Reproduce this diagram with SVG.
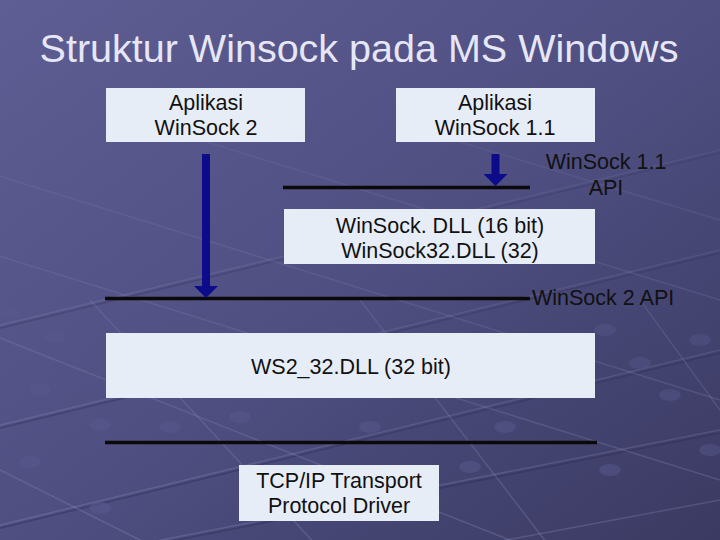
<svg xmlns="http://www.w3.org/2000/svg" width="720" height="540" viewBox="0 0 720 540">
  <defs>
    <linearGradient id="bg" x1="0" y1="0" x2="1" y2="1">
      <stop offset="0" stop-color="#5e5e94"/>
      <stop offset="0.5" stop-color="#4f4f82"/>
      <stop offset="1" stop-color="#3a3a62"/>
    </linearGradient>
    <linearGradient id="fade" x1="0" y1="0" x2="0" y2="1">
      <stop offset="0" stop-color="#fff" stop-opacity="0"/>
      <stop offset="0.35" stop-color="#fff" stop-opacity="0.45"/>
      <stop offset="1" stop-color="#fff" stop-opacity="0.9"/>
    </linearGradient>
    <mask id="m">
      <rect width="720" height="540" fill="url(#fade)"/>
    </mask>
    <marker id="ah" viewBox="0 0 12 24" refX="0" refY="12" markerWidth="12" markerHeight="24" orient="auto" markerUnits="userSpaceOnUse">
      <path d="M0,0 L12,12 L0,24 Z" fill="#0c0c8a"/>
    </marker>
    <style>
      .box { fill: #e7edf7; }
      .t { font-family: "Liberation Sans", Arial, sans-serif; font-size: 21.5px; fill: #111; text-anchor: middle; }
      .lbl { font-family: "Liberation Sans", Arial, sans-serif; font-size: 21.5px; fill: #111; }
      .api { stroke: #0a0a0a; stroke-width: 3.5; fill: none; }
      .arr { stroke: #0c0c8a; stroke-width: 8; fill: none; }
      .gl { stroke: #a8a8d8; stroke-width: 1.5; opacity: 0.25; }
      .gd { stroke: #24244a; stroke-width: 1.5; opacity: 0.4; }
      .dot { fill: #5a5a90; opacity: 0.6; }
    </style>
  </defs>
  <rect width="720" height="540" fill="url(#bg)"/>
  <g id="background-grid" mask="url(#m)">
    <path class="gl" d="M-20,330 L720,150 M-20,430 L720,250 M-20,530 L720,350 M60,560 L720,430 M400,560 L720,500"/>
    <path class="gd" d="M-20,333 L720,153 M-20,433 L720,253 M-20,533 L720,353 M60,563 L720,433"/>
    <path class="gl" d="M-20,250 L720,480 M-20,330 L560,560 M-20,170 L720,400 M200,140 L720,300 M420,130 L720,220"/>
    <path class="gl" d="M0,470 L180,560 M90,300 L330,560 M360,300 L560,560 M640,300 L720,410"/>
    <ellipse class="dot" cx="10" cy="315" rx="11" ry="6"/>
    <ellipse class="dot" cx="55" cy="337" rx="11" ry="6"/>
    <ellipse class="dot" cx="40" cy="390" rx="11" ry="6"/>
    <ellipse class="dot" cx="100" cy="425" rx="11" ry="6"/>
    <ellipse class="dot" cx="30" cy="462" rx="11" ry="6"/>
    <ellipse class="dot" cx="100" cy="508" rx="11" ry="6"/>
    <ellipse class="dot" cx="170" cy="427" rx="11" ry="6"/>
    <ellipse class="dot" cx="240" cy="417" rx="11" ry="6"/>
    <ellipse class="dot" cx="370" cy="427" rx="11" ry="6"/>
    <ellipse class="dot" cx="505" cy="427" rx="11" ry="6"/>
    <ellipse class="dot" cx="470" cy="467" rx="11" ry="6"/>
    <ellipse class="dot" cx="605" cy="330" rx="11" ry="6"/>
    <ellipse class="dot" cx="640" cy="363" rx="11" ry="6"/>
    <ellipse class="dot" cx="670" cy="395" rx="11" ry="6"/>
    <ellipse class="dot" cx="710" cy="450" rx="11" ry="6"/>
    <ellipse class="dot" cx="610" cy="470" rx="11" ry="6"/>
    <ellipse class="dot" cx="700" cy="340" rx="11" ry="6"/>
  </g>
  <text id="title" x="359" y="62" font-family="'Liberation Sans', Arial, sans-serif" font-size="39.5" fill="#e6e6f6" text-anchor="middle">Struktur Winsock pada MS Windows</text>

  <g id="connectors">
    <line class="api" x1="283" y1="187.5" x2="530" y2="187.5"/>
    <line class="api" x1="105" y1="298.5" x2="530" y2="298.5"/>
    <line class="api" x1="105" y1="442.5" x2="597" y2="442.5"/>
    <line class="arr" x1="206" y1="154" x2="206" y2="286" marker-end="url(#ah)"/>
    <line class="arr" x1="495.5" y1="154" x2="495.5" y2="174" marker-end="url(#ah)"/>
  </g>

  <g id="app-ws2">
    <rect class="box" x="106" y="88" width="199" height="54"/>
    <text class="t" x="206" y="110">Aplikasi</text>
    <text class="t" x="206" y="135">WinSock 2</text>
  </g>
  <g id="app-ws11">
    <rect class="box" x="396" y="88" width="199" height="54"/>
    <text class="t" x="495" y="110">Aplikasi</text>
    <text class="t" x="495" y="135">WinSock 1.1</text>
  </g>
  <g id="label-ws11-api">
    <text class="t" x="606" y="169">WinSock 1.1</text>
    <text class="t" x="606" y="195">API</text>
  </g>
  <g id="winsock-dll">
    <rect class="box" x="284" y="209" width="311" height="55"/>
    <text class="t" x="440" y="233">WinSock. DLL (16 bit)</text>
    <text class="t" x="440" y="258">WinSock32.DLL (32)</text>
  </g>
  <g id="label-ws2-api">
    <text class="lbl" x="532" y="305">WinSock 2 API</text>
  </g>
  <g id="ws2-32-dll">
    <rect class="box" x="106" y="333" width="489" height="65"/>
    <text class="t" x="351" y="374">WS2_32.DLL (32 bit)</text>
  </g>
  <g id="tcpip-driver">
    <rect class="box" x="239" y="465" width="200" height="56"/>
    <text class="t" x="339" y="488">TCP/IP Transport</text>
    <text class="t" x="339" y="513">Protocol Driver</text>
  </g>
</svg>
